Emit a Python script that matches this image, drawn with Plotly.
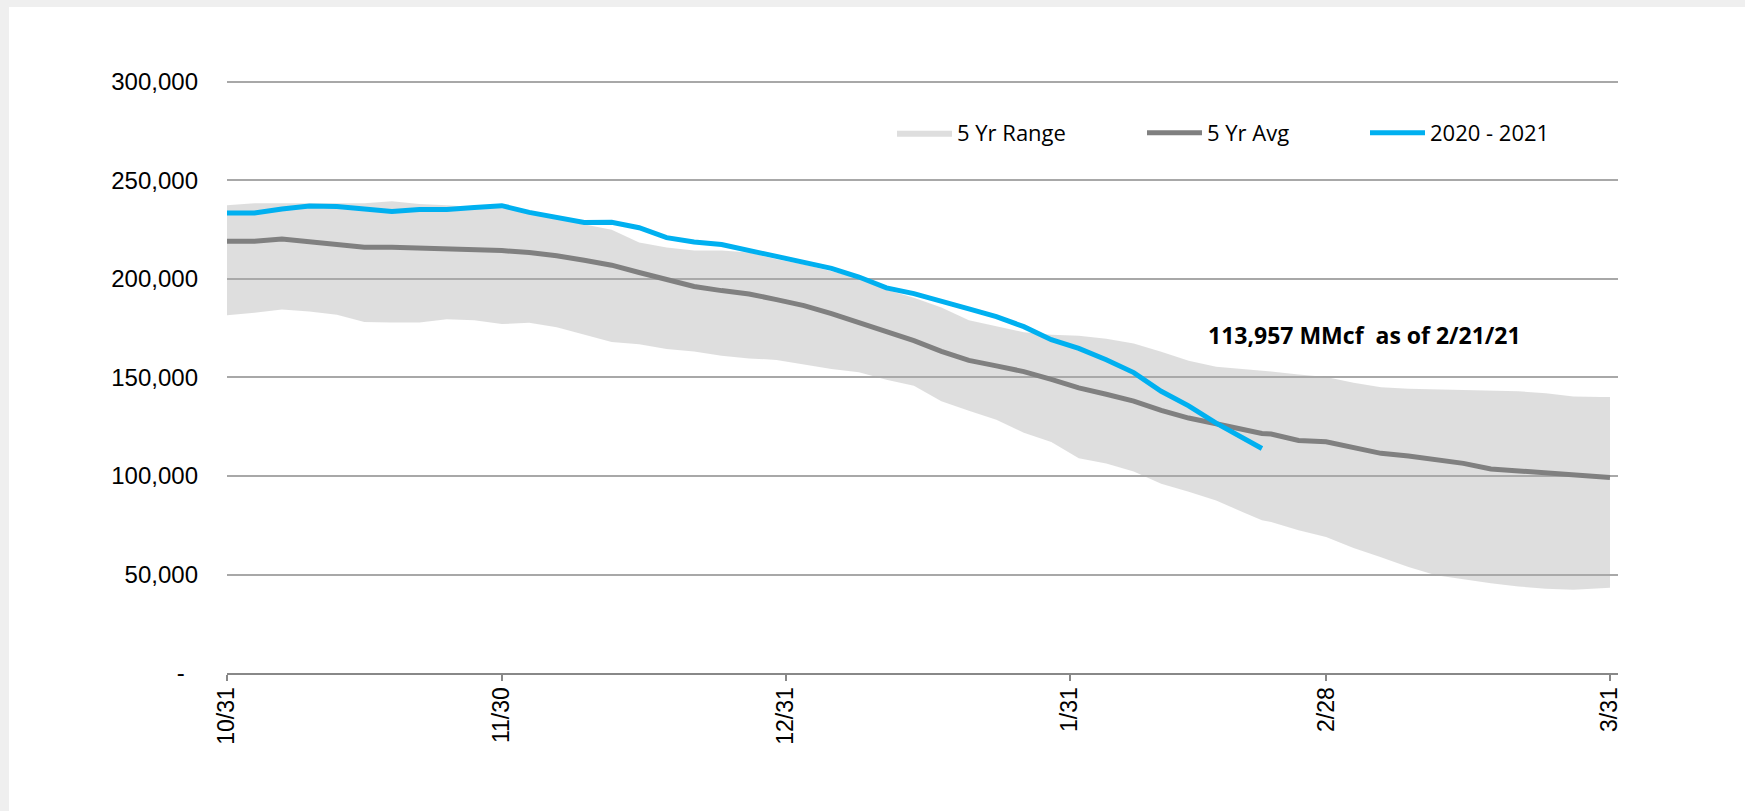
import plotly.graph_objects as go

# ---------------- data ----------------
dates = [
    "2020-10-31", "2020-11-03", "2020-11-06", "2020-11-09", "2020-11-12", "2020-11-15",
    "2020-11-18", "2020-11-21", "2020-11-24", "2020-11-27", "2020-11-30", "2020-12-03",
    "2020-12-06", "2020-12-09", "2020-12-12", "2020-12-15", "2020-12-18", "2020-12-21",
    "2020-12-24", "2020-12-27", "2020-12-30", "2021-01-02", "2021-01-05", "2021-01-08",
    "2021-01-11", "2021-01-14", "2021-01-17", "2021-01-20", "2021-01-23", "2021-01-26",
    "2021-01-29", "2021-02-01", "2021-02-04", "2021-02-07", "2021-02-10", "2021-02-13",
    "2021-02-16", "2021-02-19", "2021-02-21", "2021-02-22", "2021-02-25", "2021-02-28",
    "2021-03-03", "2021-03-06", "2021-03-09", "2021-03-12", "2021-03-15", "2021-03-18",
    "2021-03-21", "2021-03-24", "2021-03-27", "2021-03-30", "2021-03-31",
]

range_upper = [
    237400, 238500, 238500, 238500, 238300, 238500, 239400, 238000, 237400, 236500,
    236500, 233000, 230500, 227600, 225000, 218500, 216000, 214500, 214400, 213500,
    210000, 207300, 204000, 200500, 194500, 190500, 185500, 179000, 176000, 173000,
    171700, 171200, 169600, 167200, 163000, 158500, 155500, 154300, 153700, 153000,
    151500, 150200, 147300, 145000, 144300, 144000, 143900, 143600, 143000, 142000,
    140300, 140100, 140100,
]

range_lower = [
    181600, 182800, 184500, 183500, 181800, 178200, 177900, 177900, 179500, 179000,
    177100, 177800, 175500, 171800, 168000, 166900, 164400, 163200, 161000, 159700,
    158900, 156600, 154300, 152700, 148800, 145800, 138000, 133100, 128500, 122000,
    117200, 109000, 106300, 102300, 96000, 92000, 87500, 81500, 77500, 76600,
    72500, 69000, 63500, 58800, 53800, 49600, 47500, 45500, 43900, 42800,
    42200, 43300, 43300,
]

avg_5yr = [
    219100, 219100, 220300, 218700, 217600, 216100, 216100, 215800, 215300, 215300,
    214400, 213400, 211800, 209500, 207000, 203300, 199500, 196200, 194100, 192400,
    189500, 186500, 182400, 177800, 173000, 168700, 163300, 158700, 155900, 153000,
    149000, 144700, 141500, 138000, 133300, 129400, 126500, 123300, 121600, 121300,
    118000, 117400, 114500, 111500, 110200, 108200, 106400, 103600, 102600, 101400,
    100000, 99200, 99200,
]

season_2020_21 = [
    233500, 233500, 235500, 237000, 236800, 235200, 234200, 235300, 235300, 236300,
    237200, 233800, 231300, 228700, 228800, 226000, 221000, 218800, 217500, 214500,
    211200, 208500, 205400, 201000, 195500, 192600, 189000, 184800, 180900, 175800,
    169200, 164800, 159000, 152500, 143000, 135600, 126800, 119300, 113957,
]
season_dates = dates[:len(season_2020_21)]

x_tick_vals = ["2020-10-31", "2020-11-30", "2020-12-31", "2021-01-31", "2021-02-28", "2021-03-31"]
x_tick_text = ["10/31", "11/30", "12/31", "1/31", "2/28", "3/31"]
y_tick_vals = [0, 50000, 100000, 150000, 200000, 250000, 300000]
y_tick_text = ["-\u00a0\u00a0", "50,000", "100,000", "150,000", "200,000", "250,000", "300,000"]

latest_label = "113,957 MMcf\u00a0\u00a0as of 2/21/21"

# ---------------- layout helpers ----------------
W, H = 1745, 811
L, R, T, B = 227, 127, 80, 138
PW = W - L - R
PH = H - T - B


def px_x(px):
    return (px - L) / PW


def px_y(py):
    return (H - B - py) / PH


legend_font = dict(family="Open Sans, Lato, sans-serif", size=22, color="#000000")
ytick_font = dict(family="Liberation Sans, Arial, sans-serif", size=24, color="#000000")
xtick_font = dict(family="Liberation Sans, Arial, sans-serif", size=23, color="#000000")

fig = go.Figure()

fig.add_trace(go.Scatter(
    x=dates, y=range_lower, mode="lines", line=dict(width=0, color="rgba(0,0,0,0)"),
    showlegend=False, hoverinfo="skip",
))
fig.add_trace(go.Scatter(
    x=dates, y=range_upper, mode="lines", name="5 Yr Range",
    line=dict(width=0, color="rgba(170,170,170,0.39)"),
    fill="tonexty", fillcolor="rgba(170,170,170,0.39)", legend="legend",
))
fig.add_trace(go.Scatter(
    x=dates, y=avg_5yr, mode="lines", name="5 Yr Avg",
    line=dict(width=5, color="#808080"), legend="legend2",
))
fig.add_trace(go.Scatter(
    x=season_dates, y=season_2020_21, mode="lines", name="2020 - 2021",
    line=dict(width=5, color="#00B0F0"), legend="legend3",
))

IW = 55
leg_common = dict(orientation="h", yanchor="middle", y=px_y(133), xanchor="left",
                  bgcolor="rgba(0,0,0,0)", font=legend_font, itemwidth=IW)
fig.update_layout(
    legend=dict(x=px_x(957 - IW - 10), **leg_common),
    legend2=dict(x=px_x(1207 - IW - 10), **leg_common),
    legend3=dict(x=px_x(1430 - IW - 10), **leg_common),
)

fig.add_annotation(
    x="2021-02-14 22:00", y=171600, xref="x", yref="y",
    text=latest_label, showarrow=False, xanchor="left", yanchor="middle",
    font=dict(family="Open Sans, Lato, sans-serif", size=23, color="#000000", weight="bold"),
)

# light grey frame strips (page background showing around the white panel)
fig.add_shape(type="rect", xref="paper", yref="paper", layer="below",
              x0=px_x(0), x1=px_x(9), y0=px_y(H), y1=px_y(0),
              fillcolor="#EFEFEF", line=dict(width=0))
fig.add_shape(type="rect", xref="paper", yref="paper", layer="below",
              x0=px_x(0), x1=px_x(W), y0=px_y(7), y1=px_y(0),
              fillcolor="#EFEFEF", line=dict(width=0))

fig.update_layout(
    width=W, height=H,
    margin=dict(l=L, r=R, t=T, b=B),
    paper_bgcolor="#FFFFFF", plot_bgcolor="#FFFFFF",
    hovermode=False,
    xaxis=dict(
        type="date", range=["2020-10-31 00:00", "2021-03-31 21:00"],
        tickmode="array", tickvals=x_tick_vals, ticktext=x_tick_text,
        tickangle=-90, tickfont=xtick_font,
        showgrid=False, zeroline=False,
        showline=True, linecolor="#888888", linewidth=2,
        ticks="outside", ticklen=6, tickwidth=2, tickcolor="#888888",
        ticklabelstandoff=-3,
    ),
    yaxis=dict(
        range=[0, 301000], tickmode="array", tickvals=y_tick_vals, ticktext=y_tick_text,
        tickfont=ytick_font, showgrid=True, gridcolor="#A8A8A8", gridwidth=1.5,
        zeroline=False, showline=False, ticks="", ticklabelstandoff=28,
    ),
)

fig.write_html(
    "out.html",
    config={"displayModeBar": False},
    post_script="document.body.style.margin='0';document.body.style.overflow='hidden';",
)
